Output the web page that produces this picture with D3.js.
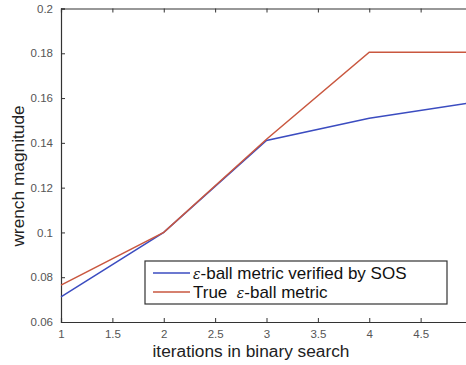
<!DOCTYPE html>
<html><head><meta charset="utf-8">
<script src="https://cdn.jsdelivr.net/npm/d3@7"></script>
<style>body{margin:0;background:#fff}svg{display:block}</style>
</head><body>
<script>
const iterations = [1, 2, 3, 4, 5];
const sosValues = [0.0712, 0.1, 0.1411, 0.151, 0.158];
const trueValues = [0.0765, 0.1, 0.1416, 0.1805, 0.1805];
const xTicks = [1, 1.5, 2, 2.5, 3, 3.5, 4, 4.5, 5];
const xTickLabels = ["1", "1.5", "2", "2.5", "3", "3.5", "4", "4.5", ""];
const yTicks = [0.06, 0.08, 0.1, 0.12, 0.14, 0.16, 0.18, 0.2];
const yTickLabels = ["0.06", "0.08", "0.1", "0.12", "0.14", "0.16", "0.18", "0.2"];
const seriesNames = ["ε-ball metric verified by SOS", "True  ε-ball metric"];
const seriesColors = ["#3b4cc0", "#c9573f"];

const W = 466, H = 365;
const svg = d3.select("body").append("svg").attr("width", W).attr("height", H);
const x = d3.scaleLinear().domain([1, 5]).range([61, 472]);
const y = d3.scaleLinear().domain([0.06, 0.2]).range([322, 8.5]);
const font = "Liberation Sans, Arial, sans-serif";

// axes box
const g = svg.append("g");
const xAxB = d3.axisBottom(x).tickValues(xTicks).tickSize(-4).tickPadding(8).tickFormat((d, i) => xTickLabels[i]);
const xAxT = d3.axisTop(x).tickValues(xTicks).tickSize(-4).tickFormat("");
const yAxL = d3.axisLeft(y).tickValues(yTicks).tickSize(-4).tickPadding(8).tickFormat((d, i) => yTickLabels[i]);
g.append("g").attr("transform", `translate(0,${y(0.06)})`).call(xAxB);
g.append("g").attr("transform", `translate(0,${y(0.2)})`).call(xAxT);
g.append("g").attr("transform", `translate(${x(1)},0)`).call(yAxL);
g.selectAll(".domain").attr("stroke", "#333").attr("stroke-width", 1.2);
g.selectAll(".tick line").attr("stroke", "#333");
g.selectAll(".tick text").attr("font-family", font).attr("font-size", 11.5).attr("fill", "#555");

// lines
const data = [sosValues, trueValues];
const line = d3.line().x((d, i) => x(iterations[i])).y(d => y(d));
data.forEach((vals, k) => {
  svg.append("path").datum(vals).attr("d", line)
    .attr("fill", "none").attr("stroke", seriesColors[k]).attr("stroke-width", 1.5);
});

// axis titles
svg.append("text").attr("x", 251).attr("y", 357).attr("text-anchor", "middle")
  .attr("font-family", font).attr("font-size", 17.3).attr("fill", "#222")
  .text("iterations in binary search");
svg.append("text").attr("transform", "translate(24,176) rotate(-90)").attr("text-anchor", "middle")
  .attr("font-family", font).attr("font-size", 17.3).attr("fill", "#222")
  .text("wrench magnitude");

// legend
const lg = svg.append("g");
lg.append("rect").attr("x", 145).attr("y", 261).attr("width", 302).attr("height", 43)
  .attr("fill", "#fff").attr("stroke", "#333").attr("stroke-width", 1.2);
seriesNames.forEach((name, k) => {
  const yy = 273 + k * 19;
  lg.append("line").attr("x1", 153).attr("x2", 190).attr("y1", yy).attr("y2", yy)
    .attr("stroke", seriesColors[k]).attr("stroke-width", 1.3);
  const parts = name.split("ε");
  const t = lg.append("text").attr("x", 193).attr("y", yy + 5.5)
    .attr("font-family", font).attr("font-size", 17).attr("fill", "#111")
    .attr("xml:space", "preserve");
  t.append("tspan").text(parts[0]);
  t.append("tspan").attr("font-family", "DejaVu Serif, serif").attr("font-style", "italic").attr("font-size", 14).text("ε");
  t.append("tspan").text(parts[1]);
});
</script>
</body></html>
